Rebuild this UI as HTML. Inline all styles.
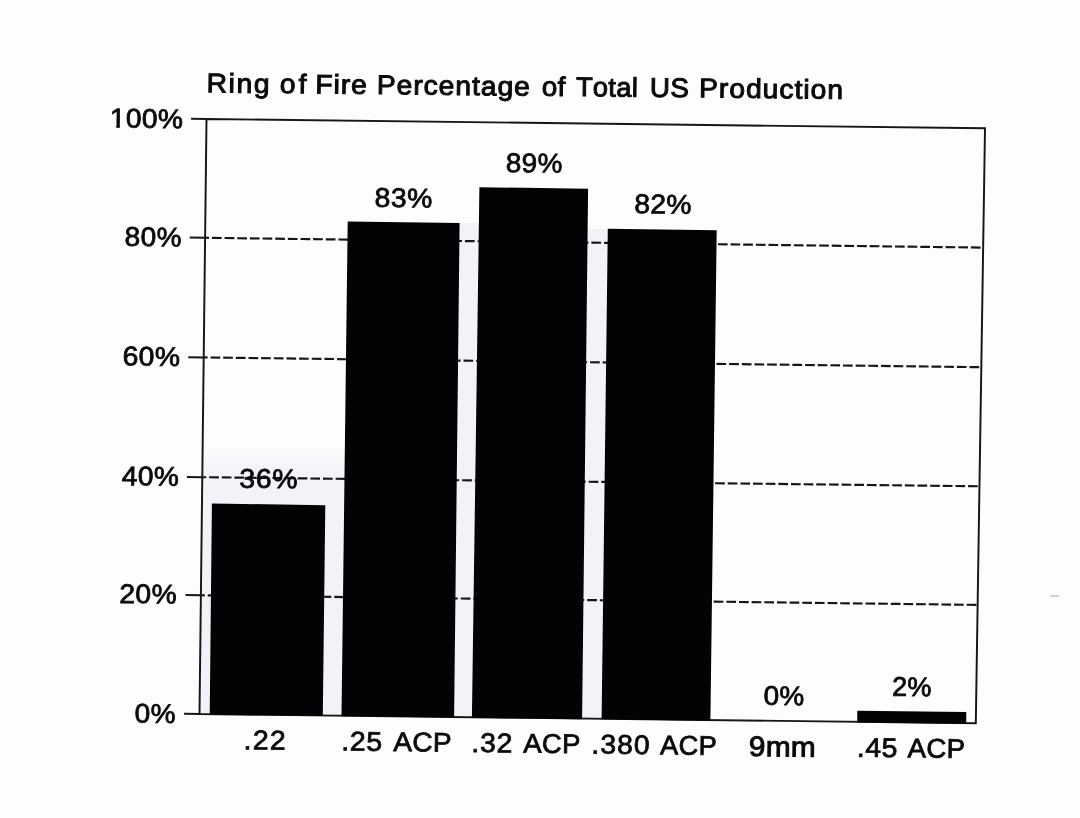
<!DOCTYPE html>
<html><head><meta charset="utf-8"><title>Ring of Fire Percentage of Total US Production</title>
<style>
html,body{margin:0;padding:0;background:#fdfdfd;}
body{width:1080px;height:818px;overflow:hidden;position:relative;font-family:"Liberation Sans",sans-serif;}
svg{position:absolute;left:0;top:0;display:block;filter:blur(0.6px);}
svg text{font-family:"Liberation Sans",sans-serif;fill:#0a0a0c;stroke:#0a0a0c;font-kerning:none;white-space:pre;}
</style></head><body>
<svg width="1080" height="818" viewBox="0 0 1080 818">
<rect x="0" y="0" width="1080" height="818" fill="#fdfdfd"/>
<polygon fill="#f3f2f9" points="201.98,503.50 211.90,503.50 209.70,714.12 199.50,714.00"/>
<polygon fill="#f3f2f9" points="325.30,505.20 344.14,505.40 341.50,715.68 322.80,715.46"/>
<polygon fill="#f3f2f9" points="459.60,222.90 478.89,223.10 471.90,717.23 454.10,717.02"/>
<polygon fill="#f3f2f9" points="587.65,228.70 607.80,228.90 601.60,718.77 582.10,718.53"/>
<defs><linearGradient id="tg" x1="0" y1="0" x2="0" y2="1"><stop offset="0" stop-color="#f5f4fa" stop-opacity="0"/><stop offset="0.35" stop-color="#f5f4fa" stop-opacity="1"/><stop offset="1" stop-color="#f3f2f9" stop-opacity="1"/></linearGradient><filter id="soft" x="-5%" y="-50%" width="110%" height="200%"><feGaussianBlur stdDeviation="2.2"/></filter></defs>
<polygon fill="url(#tg)" points="202.65,446 346.20,447.6 345.20,505.3 201.98,503.5"/>
<g filter="url(#soft)" transform="rotate(0.66 170 800)"><line x1="172" y1="800" x2="868" y2="800" stroke="#f3f3f6" stroke-width="11" stroke-dasharray="38 9 22 7 51 10 17 8 44 9 29 7"/></g>
<line x1="205.10" y1="237.80" x2="983.16" y2="247.60" stroke="#161618" stroke-width="2.15" stroke-dasharray="9.7 2.95" stroke-dashoffset="5.8"/>
<line x1="203.70" y1="357.40" x2="981.31" y2="367.20" stroke="#161618" stroke-width="2.15" stroke-dasharray="9.7 2.95" stroke-dashoffset="5.8"/>
<line x1="202.29" y1="477.20" x2="979.46" y2="486.30" stroke="#161618" stroke-width="2.15" stroke-dasharray="9.7 2.95" stroke-dashoffset="5.8"/>
<line x1="200.90" y1="595.30" x2="977.63" y2="604.90" stroke="#161618" stroke-width="2.15" stroke-dasharray="9.7 2.95" stroke-dashoffset="5.8"/>
<line x1="191.10" y1="118.81" x2="206.50" y2="119.00" stroke="#161618" stroke-width="2.0"/>
<line x1="189.70" y1="237.61" x2="205.10" y2="237.80" stroke="#161618" stroke-width="2.0"/>
<line x1="188.30" y1="357.21" x2="203.70" y2="357.40" stroke="#161618" stroke-width="2.0"/>
<line x1="186.89" y1="477.01" x2="202.29" y2="477.20" stroke="#161618" stroke-width="2.0"/>
<line x1="185.50" y1="595.11" x2="200.90" y2="595.30" stroke="#161618" stroke-width="2.0"/>
<line x1="184.10" y1="713.81" x2="199.50" y2="714.00" stroke="#161618" stroke-width="2.0"/>
<polygon fill="none" stroke="#161618" stroke-width="1.95" stroke-linejoin="miter" points="206.50,119.00 985.00,128.30 975.80,723.20 199.50,714.00"/>
<polygon fill="#030305" points="211.90,503.50 325.30,505.20 322.80,716.06 209.70,714.72"/>
<polygon fill="#030305" points="347.70,221.60 459.60,222.90 454.10,717.62 341.50,716.28"/>
<polygon fill="#030305" points="479.40,187.20 588.10,188.70 582.10,719.13 471.90,717.83"/>
<polygon fill="#030305" points="607.80,228.70 716.70,230.20 710.40,720.65 601.60,719.37"/>
<polygon fill="#030305" points="857.30,710.80 966.30,712.10 966.20,723.69 857.20,722.39"/>
<rect x="1050" y="595" width="9" height="2" fill="#d2d2d4"/>
<text transform="translate(109.70,127.35) rotate(0.66) scale(1.0460646484167857,1)" font-size="27.0" stroke-width="0.8" letter-spacing="0.335" word-spacing="0.0">100%</text>
<rect transform="translate(109.70,127.35) rotate(0.66) scale(1.0460646484167857,1)" x="0.08" y="-3.62" width="6.16" height="4.82" fill="#fdfdfd"/>
<rect transform="translate(109.70,127.35) rotate(0.66) scale(1.0460646484167857,1)" x="9.73" y="-3.62" width="5.95" height="4.82" fill="#fdfdfd"/>
<text transform="translate(124.60,245.84) rotate(0.66) scale(1.0378756575570656,1)" font-size="27.0" stroke-width="0.8" letter-spacing="0.337" word-spacing="0.0">80%</text>
<text transform="translate(122.38,365.33) rotate(0.66) scale(1.05,1)" font-size="27.0" stroke-width="0.8" letter-spacing="0.414" word-spacing="0.0">60%</text>
<text transform="translate(121.77,485.14) rotate(0.66) scale(1.0421063633546463,1)" font-size="27.0" stroke-width="0.8" letter-spacing="0.336" word-spacing="0.0">40%</text>
<text transform="translate(119.30,602.93) rotate(0.66) scale(1.0472352951020554,1)" font-size="27.0" stroke-width="0.8" letter-spacing="0.334" word-spacing="0.0">20%</text>
<text transform="translate(134.52,722.53) rotate(0.66) scale(1.0408305070298116,1)" font-size="27.0" stroke-width="0.8" letter-spacing="0.336" word-spacing="0.0">0%</text>
<text transform="translate(239.24,487.66) rotate(0.66) scale(1.05,1)" font-size="27.0" stroke-width="0.8" letter-spacing="0.718" word-spacing="0.0">36%</text>
<text transform="translate(374.59,206.77) rotate(0.66) scale(1.05,1)" font-size="27.0" stroke-width="0.8" letter-spacing="0.410" word-spacing="0.0">83%</text>
<text transform="translate(505.70,171.97) rotate(0.66) scale(1.03218346930721,1)" font-size="27.0" stroke-width="0.8" letter-spacing="0.339" word-spacing="0.0">89%</text>
<text transform="translate(634.29,213.07) rotate(0.66) scale(1.045465241890206,1)" font-size="27.0" stroke-width="0.8" letter-spacing="0.335" word-spacing="0.0">82%</text>
<text transform="translate(763.42,704.76) rotate(0.66) scale(1.0355403900944626,1)" font-size="27.0" stroke-width="0.8" letter-spacing="0.338" word-spacing="0.0">0%</text>
<text transform="translate(891.94,695.77) rotate(0.66) scale(1.0039163403049747,1)" font-size="27.0" stroke-width="0.8" letter-spacing="0.349" word-spacing="0.0">2%</text>
<text transform="translate(243.53,749.15) rotate(0.66) scale(1.05,1)" font-size="27.0" stroke-width="0.8" letter-spacing="1.269" word-spacing="0.0">.22</text>
<text transform="translate(341.23,750.34) rotate(0.66) scale(1.05,1)" font-size="27.0" stroke-width="0.8" letter-spacing="0.680" word-spacing="0.0">.25</text>
<text transform="translate(393.16,750.98) rotate(0.66) scale(1.0393958226858535,1)" font-size="27.0" stroke-width="0.8" letter-spacing="0.337" word-spacing="0.0">ACP</text>
<text transform="translate(471.23,751.93) rotate(0.66) scale(1.05,1)" font-size="27.0" stroke-width="0.8" letter-spacing="0.792" word-spacing="0.0">.32</text>
<text transform="translate(523.15,752.57) rotate(0.66) scale(1.0175138053661517,1)" font-size="27.0" stroke-width="0.8" letter-spacing="0.344" word-spacing="0.0">ACP</text>
<text transform="translate(591.23,753.40) rotate(0.66) scale(1.05,1)" font-size="27.0" stroke-width="0.8" letter-spacing="0.977" word-spacing="0.0">.380</text>
<text transform="translate(659.95,754.24) rotate(0.66) scale(1.0102197995929179,1)" font-size="27.0" stroke-width="0.8" letter-spacing="0.346" word-spacing="0.0">ACP</text>
<text transform="translate(856.83,756.63) rotate(0.66) scale(1.05,1)" font-size="27.0" stroke-width="0.8" letter-spacing="0.442" word-spacing="0.0">.45</text>
<text transform="translate(907.55,757.26) rotate(0.66) scale(1.0211608082527674,1)" font-size="27.0" stroke-width="0.8" letter-spacing="0.343" word-spacing="0.0">ACP</text>
<text transform="translate(748.73,756.03) rotate(0.66) scale(1.0527995881065777,1)" font-size="28.3" stroke-width="1.0" letter-spacing="0.332" word-spacing="0.0">9mm</text>
<text transform="translate(206.41,92.29) rotate(0.66) scale(1.05,1)" font-size="26.9" stroke-width="1.0" letter-spacing="1.587" word-spacing="0.0">Ring</text>
<text transform="translate(279.84,93.07) rotate(0.66) scale(1.05,1)" font-size="26.9" stroke-width="1.0" letter-spacing="2.799" word-spacing="0.0">of</text>
<text transform="translate(315.31,93.41) rotate(0.66) scale(1.05,1)" font-size="26.9" stroke-width="1.0" letter-spacing="0.882" word-spacing="0.0">Fire</text>
<text transform="translate(376.71,93.98) rotate(0.66) scale(1.05,1)" font-size="26.9" stroke-width="1.0" letter-spacing="0.916" word-spacing="0.0">Percentage</text>
<text transform="translate(541.65,95.75) rotate(0.66) scale(1.0315971197867195,1)" font-size="26.9" stroke-width="1.0" letter-spacing="0.339" word-spacing="0.0">of</text>
<text transform="translate(575.89,96.08) rotate(0.66) scale(1.0120049163468534,1)" font-size="26.9" stroke-width="1.0" letter-spacing="0.346" word-spacing="0.0">Total</text>
<text transform="translate(649.67,96.85) rotate(0.66) scale(1.0368399867966036,1)" font-size="26.9" stroke-width="1.0" letter-spacing="0.338" word-spacing="0.0">US</text>
<text transform="translate(698.91,97.29) rotate(0.66) scale(1.05,1)" font-size="26.9" stroke-width="1.0" letter-spacing="0.960" word-spacing="0.0">Production</text>
</svg>
</body></html>
